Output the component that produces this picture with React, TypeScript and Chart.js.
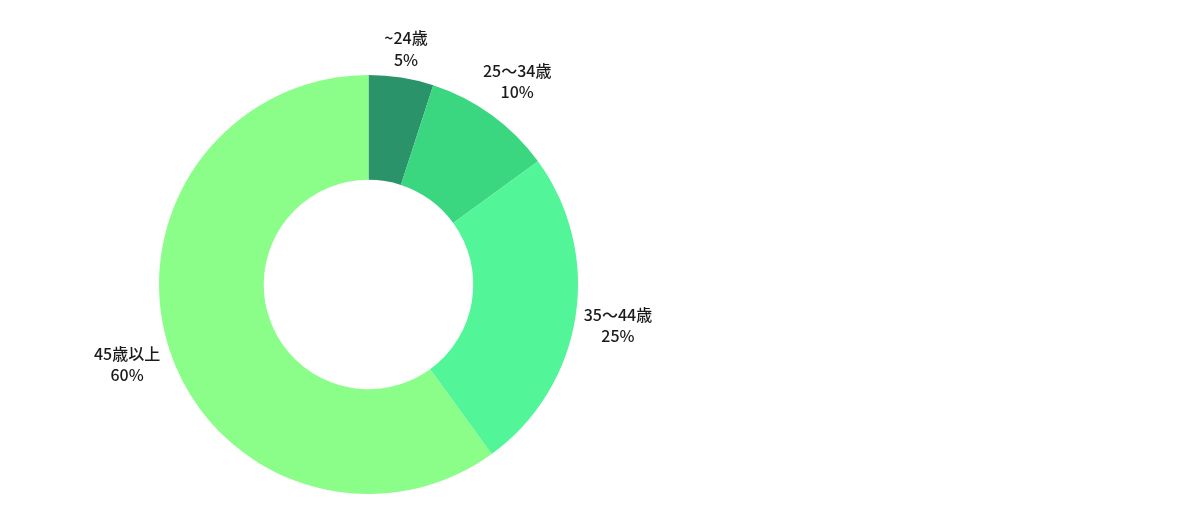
import React, { useEffect, useRef } from "react";
import { Chart, registerables } from "chart.js";

Chart.register(...registerables);

// Age bracket shares
const ageGroups: string[] = ["~24歳", "25〜34歳", "35〜44歳", "45歳以上"];
const shares: number[] = [5, 10, 25, 60];
const sliceColors: string[] = ["#2b936a", "#3ad680", "#52f597", "#8bfe8a"];

const LABEL_FONT = '500 16px "Noto Sans CJK JP", "Noto Sans", sans-serif';
const LINE_HEIGHT = 21.5;
const LABEL_GAP = 6.5;
// canvas "middle" baseline sits a little high for these glyphs
const GLYPH_NUDGE = 1.5;

// Draws "name / pct" outside each slice, pushed out along the slice's mid-angle
// until the text box clears the ring by LABEL_GAP.
const outsideLabels = {
  id: "outsideLabels",
  afterDatasetsDraw(chart: any) {
    const ctx: CanvasRenderingContext2D = chart.ctx;
    const meta = chart.getDatasetMeta(0);
    const data: number[] = chart.data.datasets[0].data;
    const total = data.reduce((a, b) => a + b, 0);
    ctx.save();
    ctx.font = LABEL_FONT;
    ctx.fillStyle = "#1b1b1b";
    ctx.textAlign = "center";
    ctx.textBaseline = "middle";
    meta.data.forEach((arc: any, i: number) => {
      const { x, y, startAngle, endAngle, outerRadius } = arc.getProps(
        ["x", "y", "startAngle", "endAngle", "outerRadius"],
        true
      );
      const mid = (startAngle + endAngle) / 2;
      const vx = Math.cos(mid);
      const vy = Math.sin(mid);
      const lines = [
        String(chart.data.labels[i]),
        Math.round((data[i] / total) * 100) + "%",
      ];
      const hw = Math.max(...lines.map((l) => ctx.measureText(l).width)) / 2;
      const hh = (LINE_HEIGHT * lines.length) / 2;
      const target = outerRadius + LABEL_GAP;
      const nearest = (d: number) => {
        const cx = vx * d;
        const cy = vy * d;
        const nx = Math.max(Math.abs(cx) - hw, 0);
        const ny = Math.max(Math.abs(cy) - hh, 0);
        return Math.hypot(nx, ny);
      };
      let lo = 0;
      let hi = outerRadius + 400;
      for (let k = 0; k < 60; k++) {
        const m = (lo + hi) / 2;
        if (nearest(m) < target) lo = m;
        else hi = m;
      }
      const cx = x + vx * hi;
      const cy = y + vy * hi;
      lines.forEach((line, j) => {
        const ly = cy - hh + LINE_HEIGHT * (j + 0.5) + GLYPH_NUDGE;
        ctx.fillText(line, cx, ly);
      });
    });
    ctx.restore();
  },
};

export default function App() {
  const canvasRef = useRef<HTMLCanvasElement | null>(null);

  useEffect(() => {
    if (!canvasRef.current) return;
    const chart = new Chart(canvasRef.current, {
      type: "doughnut",
      data: {
        labels: ageGroups,
        datasets: [
          {
            data: shares,
            backgroundColor: sliceColors,
            borderWidth: 0,
          },
        ],
      },
      options: {
        animation: false,
        responsive: true,
        maintainAspectRatio: false,
        cutout: "50%",
        layout: { padding: { top: 67, bottom: 14, left: 0, right: 0 } },
        plugins: {
          legend: { display: false },
          tooltip: { enabled: false },
        },
      },
      plugins: [outsideLabels],
    });
    return () => chart.destroy();
  }, []);

  return (
    <div style={{ width: 721, height: 500, position: "relative" }}>
      <canvas ref={canvasRef} />
    </div>
  );
}
